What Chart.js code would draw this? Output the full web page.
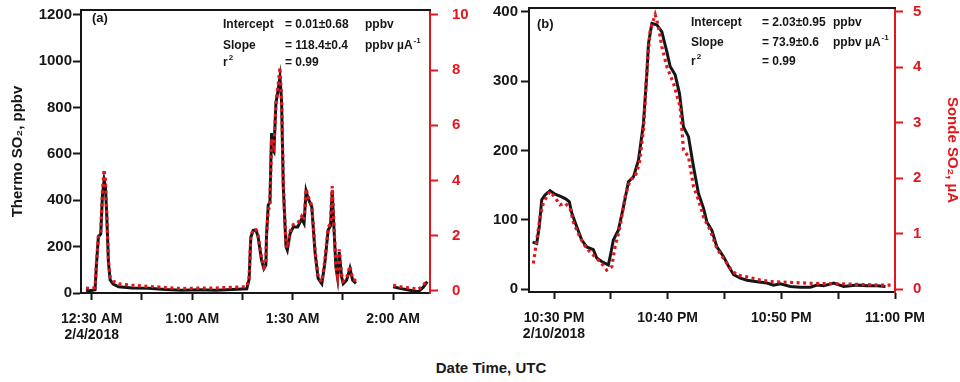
<!DOCTYPE html>
<html>
<head>
<meta charset="utf-8">
<script src="https://cdn.jsdelivr.net/npm/chart.js@4.4.1/dist/chart.umd.min.js"></script>
<style>
  body { margin: 0; background: #fff; width: 960px; height: 382px; position: relative; overflow: hidden;
         font-family: "Liberation Sans", Arial, sans-serif; }
  #chartA { position: absolute; left: 0; top: 0; }
  #chartB { position: absolute; left: 480px; top: 0; }
  #xTitle { position: absolute; top: 359px; left: 0; width: 982px; text-align: center;
            font-weight: bold; font-size: 15px; color: #1a1a1a; }
</style>
</head>
<body>
<canvas id="chartA" width="480" height="340"></canvas>
<canvas id="chartB" width="480" height="340"></canvas>
<div id="xTitle">Date Time, UTC</div>
<script>
// Panel (a): minutes after midnight, 2/4/2018 (null = gap in the record)
const timeA = [28.3, 29.5, 31.0, 31.4, 32.0, 32.7, 33.2, 33.7, 34.1, 34.5, 35.0, 35.5, 36.4, 38.0, 42, 47, 52, 57, 62, 67, 72,
  76.3, 77.0, 77.5, 78.2, 78.7, 79.2, 79.7, 80.7, 81.4, 82.0, 82.2, 82.7, 83.2, 83.7, 84.0, 84.4, 85.0, 85.7, 86.2, 86.5,
  86.7, 87.2, 88.0, 88.4, 89.2, 90.2, 91.5, 92.7, 93.4, 94.0, 94.7, 95.7, 96.7, 97.6, 98.7, 99.6, 100.6, 101.3, 101.8,
  102.4, 102.9, 103.4, 103.9, 104.6, 105.1, 106.1, 107.1, 107.9, 108.9, 114.5, 120.0, 122.0, 125.0, 127.5, 129.0, 130.2];
const thermoA = [12, 10, 14, 120, 243, 255, 420, 488, 460, 330, 130, 56, 39, 27, 22, 20, 15, 12, 14, 12, 15,
  18, 60, 240, 270, 272, 265, 240, 142, 105, 120, 250, 380, 390, 690, 620, 610, 819, 880, 930, 870,
  820, 459, 200, 185, 255, 285, 285, 320, 300, 440, 405, 372, 171, 63, 40, 128, 272, 290, 440,
  258, 113, 65, 178, 70, 40, 55, 106, 55, 42, null, 27, 20, 12, 5, 25, 49];
const sondeA = [0.10, 0.08, 0.12, 1.0, 2.0, 2.15, 3.6, 4.4, 4.0, 2.8, 1.1, 0.5, 0.35, 0.25, 0.2, 0.16, 0.12, 0.08, 0.1, 0.1, 0.13,
  0.15, 0.5, 2.0, 2.2, 2.25, 2.2, 2.0, 1.2, 0.85, 1.0, 2.1, 2.9, 3.1, 5.5, 5.3, 5.2, 6.8, 7.5, 8.1, 7.4,
  6.9, 3.9, 1.7, 1.55, 2.15, 2.4, 2.45, 2.7, 2.55, 3.7, 3.4, 3.1, 1.45, 0.5, 0.33, 1.1, 2.3, 2.45, 3.8,
  2.2, 0.95, 0.55, 1.5, 0.6, 0.35, 0.45, 0.9, 0.45, 0.35, null, 0.2, 0.15, 0.1, 0.05, 0.2, 0.4];
const tickValsA = [30, 45, 60, 75, 90, 105, 120];
const tickLabelsA = [['12:30 AM', '2/4/2018'], '', '1:00 AM', '', '1:30 AM', '', '2:00 AM'];
const yTicksA = [0, 200, 400, 600, 800, 1000, 1200];
const y2TicksA = [0, 2, 4, 6, 8, 10];

// Panel (b): minutes after 10 PM, 2/10/2018
const timeB = [28.12, 28.48, 28.70, 28.92, 29.21, 29.65, 30.09, 30.68, 31.06, 31.35, 31.56, 32.00, 32.44, 32.88, 33.46,
  33.76, 34.20, 34.78, 35.00, 35.22, 35.66, 36.11, 36.55, 36.99, 37.43, 37.87, 38.17, 38.31, 38.61, 39.05, 39.49,
  39.93, 40.22, 40.66, 41.04, 41.39, 41.83, 42.27, 42.71, 43.15, 43.45, 43.89, 44.33, 44.92, 45.36, 45.80, 46.39,
  46.98, 47.86, 48.74, 49.32, 49.91, 50.79, 51.67, 52.55, 53.14, 53.73, 54.61, 55.49, 56.67, 57.55, 58.43, 59.16];
const thermoB = [68, 66, 90, 129, 136, 142, 137, 133, 130, 126, 110, 90, 71, 61, 57,
  45, 40, 35, 52, 71, 85, 119, 155, 162, 186, 239, 311, 354, 383, 381, 371,
  342, 321, 309, 282, 234, 220, 177, 138, 117, 97, 85, 61, 47, 33, 21, 16,
  13, 11, 9, 6, 8, 4, 3, 3, 6, 5, 9, 4, 6, 5, 5, 4];
const timeBs = [28.18, 28.48, 28.77, 29.06, 29.36, 29.65, 30.09, 30.53, 30.97, 31.41, 31.70, 32.14, 32.58, 33.02, 33.61,
  34.20, 34.64, 35.08, 35.37, 35.81, 36.26, 36.70, 37.14, 37.51, 37.87, 38.17, 38.46, 38.90, 39.19, 39.49, 39.93,
  40.51, 41.10, 41.39, 41.83, 42.27, 42.71, 43.15, 43.74, 44.33, 44.92, 45.51, 46.10, 46.98, 48.15, 49.32, 50.79,
  52.84, 55.79, 58.72, 59.89];
const sondeB = [0.46, 0.88, 1.30, 1.55, 1.67, 1.76, 1.65, 1.52, 1.55, 1.46, 1.21, 1.00, 0.82, 0.70, 0.58,
  0.46, 0.34, 0.40, 0.76, 1.12, 1.67, 1.97, 2.03, 2.27, 2.87, 3.95, 4.67, 4.95, 4.73, 4.37, 4.01,
  3.71, 3.29, 2.51, 2.39, 1.85, 1.61, 1.30, 1.06, 0.73, 0.55, 0.37, 0.25, 0.22, 0.16, 0.13, 0.12,
  0.10, 0.09, 0.07, 0.07];
const tickValsB = [30, 35, 40, 45, 50, 55, 60];
const tickLabelsB = [['10:30 PM', '2/10/2018'], '', '10:40 PM', '', '10:50 PM', '', '11:00 PM'];
const yTicksB = [0, 100, 200, 300, 400];
const y2TicksB = [0, 1, 2, 3, 4, 5];

// Fit statistics
const statNames = ['Intercept', 'Slope', 'r'];
const statNameSup = ['', '', '2'];
const statsA = ['= 0.01±0.68', '= 118.4±0.4', '= 0.99'];
const statsB = ['= 2.03±0.95', '= 73.9±0.6', '= 0.99'];
const statUnits = ['ppbv', 'ppbv µA', ''];
const statUnitSup = ['', '-1', ''];

const FONT = '"Liberation Sans", Arial, sans-serif';
const BLACK = '#161616';
const RED = '#e2171e';

function pts(xs, ys) {
    return xs.map((x, i) => ({ x: x, y: ys[i] }));
}

// Texto con superíndice
function supText(ctx, text, sup, x, y) {
    ctx.font = `bold 12px ${FONT}`;
    ctx.fillText(text, x, y);
    if (sup) {
        const w = ctx.measureText(text).width;
        ctx.font = `bold 8px ${FONT}`;
        ctx.fillText(sup, x + w + 1, y - 5);
    }
}

function makeNotes(cfg) {
    return {
        id: 'notes',
        afterDraw(chart) {
            const ctx = chart.ctx;
            const a = chart.chartArea;
            ctx.save();
            // marco superior
            ctx.strokeStyle = BLACK;
            ctx.lineWidth = 2;
            ctx.beginPath();
            ctx.moveTo(a.left - 1, a.top);
            ctx.lineTo(a.right + 1, a.top);
            ctx.stroke();

            ctx.fillStyle = BLACK;
            ctx.textBaseline = 'middle';
            ctx.textAlign = 'left';
            ctx.font = `bold 13px ${FONT}`;
            ctx.fillText(cfg.tag, cfg.tagX, cfg.tagY);
            cfg.rowsY.forEach((y, i) => {
                supText(ctx, statNames[i], statNameSup[i], cfg.colX[0], y);
                supText(ctx, cfg.stats[i], '', cfg.colX[1], y);
                if (statUnits[i]) supText(ctx, statUnits[i], statUnitSup[i], cfg.colX[2], y);
            });
            ctx.restore();
        }
    };
}

// Quitar el relleno automático de las etiquetas para fijar el área del gráfico
function noPad(s) {
    s.paddingTop = 0;
    s.paddingBottom = 0;
    s.paddingLeft = 0;
    s.paddingRight = 0;
}

function buildChart(id, cfg) {
    const tickFont = { family: FONT, size: 15, weight: 'bold' };
    const scales = {
        x: {
            type: 'linear',
            position: 'bottom',
            min: cfg.xMin,
            max: cfg.xMax,
            afterBuildTicks: s => { s.ticks = cfg.tickVals.map(v => ({ value: v })); },
            afterFit: s => { s.height = cfg.xHeight; noPad(s); },
            ticks: {
                autoSkip: false, maxRotation: 0, minRotation: 0, padding: 12, color: BLACK,
                font: { family: FONT, size: 14, weight: 'bold', lineHeight: 1.08 },
                callback: (v, i) => cfg.tickLabels[i]
            },
            grid: { drawOnChartArea: false, tickLength: 7, tickWidth: 2, color: BLACK },
            border: { color: BLACK, width: 2 }
        },
        y: {
            position: 'left',
            min: cfg.yMin, max: cfg.yMax,
            afterBuildTicks: s => { s.ticks = cfg.yTicks.map(v => ({ value: v })); },
            afterFit: s => { s.width = cfg.yWidth; noPad(s); },
            ticks: { autoSkip: false, padding: cfg.yPad, color: BLACK, font: tickFont, callback: v => String(v) },
            grid: { drawOnChartArea: false, tickLength: 8, tickWidth: 2, color: BLACK },
            border: { color: BLACK, width: 2 },
            title: {
                display: !!cfg.yTitle, text: cfg.yTitle || '', color: BLACK,
                font: { family: FONT, size: 15, weight: 'bold', lineHeight: 1.2 },
                padding: { top: 9, bottom: 0 }
            }
        },
        y2: {
            position: 'right',
            min: cfg.y2Min, max: cfg.y2Max,
            afterBuildTicks: s => { s.ticks = cfg.y2Ticks.map(v => ({ value: v })); },
            afterFit: s => { s.width = cfg.y2Width; noPad(s); },
            ticks: { autoSkip: false, padding: cfg.y2Pad, color: RED, font: tickFont, callback: v => String(v) },
            grid: { drawOnChartArea: false, tickLength: 8, tickWidth: 2, color: RED },
            border: { color: RED, width: 2 },
            title: {
                display: !!cfg.y2Title, text: cfg.y2Title || '', color: RED,
                font: { family: FONT, size: 15, weight: 'bold', lineHeight: 1.0 },
                padding: { top: 0, bottom: 0 }
            }
        }
    };

    return new Chart(document.getElementById(id), {
        type: 'line',
        data: {
            datasets: [
                {
                    label: 'Thermo SO2', data: pts(cfg.tThermo, cfg.thermo), yAxisID: 'y',
                    borderColor: BLACK, borderWidth: 3, pointRadius: 0, order: 2, spanGaps: false
                },
                {
                    label: 'Sonde SO2', data: pts(cfg.tSonde, cfg.sonde), yAxisID: 'y2',
                    borderColor: RED, borderWidth: 3.2, borderDash: [3, 3.5], pointRadius: 0, order: 1, spanGaps: false
                }
            ]
        },
        options: {
            responsive: false,
            animation: false,
            layout: { padding: { top: cfg.top, left: 0, right: 0, bottom: 0 } },
            plugins: { legend: { display: false }, tooltip: { enabled: false } },
            scales: scales
        },
        plugins: [makeNotes(cfg)]
    });
}

buildChart('chartA', {
    tThermo: timeA, thermo: thermoA, tSonde: timeA, sonde: sondeA,
    xMin: 26.8, xMax: 131, tickVals: tickValsA, tickLabels: tickLabelsA, xHeight: 47,
    yMin: 0, yMax: 1221, yTicks: yTicksA, yWidth: 81, yPad: 1, yTitle: 'Thermo SO₂, ppbv',
    y2Min: -0.08, y2Max: 10.18, y2Ticks: y2TicksA, y2Width: 50, y2Pad: 14, y2Title: '',
    top: 10,
    tag: '(a)', tagX: 92, tagY: 18, stats: statsA, colX: [223, 285, 365], rowsY: [25, 45.5, 63]
});

buildChart('chartB', {
    tThermo: timeB, thermo: thermoB, tSonde: timeBs, sonde: sondeB,
    xMin: 27.8, xMax: 60, tickVals: tickValsB, tickLabels: tickLabelsB, xHeight: 48,
    yMin: -3.9, yMax: 405.3, yTicks: yTicksB, yWidth: 49, yPad: 3, yTitle: '',
    y2Min: -0.054, y2Max: 5.07, y2Ticks: y2TicksB, y2Width: 65, y2Pad: 10, y2Title: 'Sonde SO₂, µA',
    top: 8,
    tag: '(b)', tagX: 57, tagY: 24, stats: statsB, colX: [211, 282, 353], rowsY: [23, 42.5, 61.5]
});
</script>
</body>
</html>
